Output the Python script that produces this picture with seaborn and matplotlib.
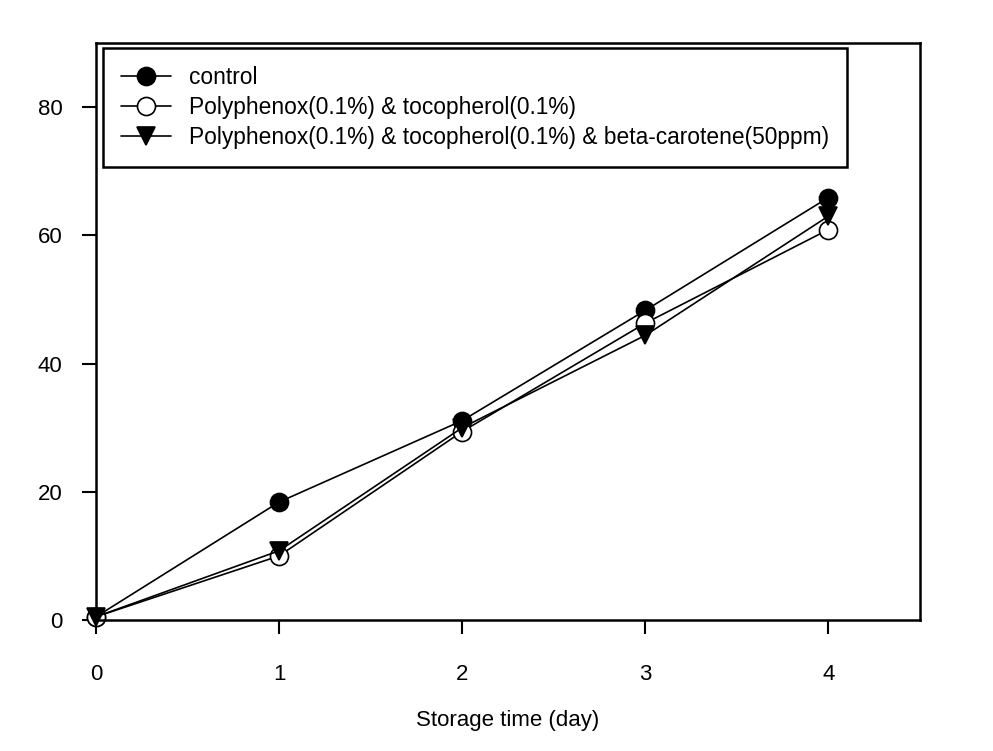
import matplotlib
matplotlib.use("Agg")
import matplotlib.pyplot as plt
import seaborn as sns
import pandas as pd

days = [0, 1, 2, 3, 4]
control = [0.5, 18.4, 31.1, 48.3, 65.9]
poly_toco = [0.5, 10.0, 29.4, 46.3, 60.9]
poly_toco_beta = [0.5, 10.8, 30.0, 44.4, 63.0]
labels = ["control",
          "Polyphenox(0.1%) & tocopherol(0.1%)",
          "Polyphenox(0.1%) & tocopherol(0.1%) & beta-carotene(50ppm)"]
xticks = [0, 1, 2, 3, 4]
yticks = [0, 20, 40, 60, 80]

sns.set_theme(style="white")
plt.rcParams['font.family'] = ['Liberation Sans', 'DejaVu Sans']
plt.rcParams['text.color'] = 'black'
plt.rcParams['xtick.color'] = 'black'
plt.rcParams['ytick.color'] = 'black'
plt.rcParams['axes.labelcolor'] = 'black'

fig = plt.figure(figsize=(9.93, 7.51), dpi=100)
ax = fig.add_axes([96/993, 1-620/751, (920-96)/993, (620-43)/751])

series = [(control, labels[0], 'o', 'black'),
          (poly_toco, labels[1], 'o', 'white'),
          (poly_toco_beta, labels[2], 'v', 'black')]
for vals, lab, mk, fc in series:
    df = pd.DataFrame({"day": days, "val": vals})
    sns.lineplot(data=df, x="day", y="val", ax=ax, color="black", linewidth=1.2,
                 marker=mk, markersize=13, markerfacecolor=fc, markeredgecolor="black",
                 markeredgewidth=1.2, label=lab, clip_on=False)

ax.set_xlim(0, 4.5)
ax.set_ylim(0, 90)
ax.set_xticks(xticks)
ax.set_yticks(yticks)
ax.tick_params(axis='x', direction='out', length=10, width=1.5, pad=22, labelsize=16, bottom=True)
ax.tick_params(axis='y', direction='out', length=10, width=1.5, pad=14, labelsize=16, left=True)
for s in ax.spines.values():
    s.set_linewidth(1.8)
    s.set_color("black")
ax.set_xlabel("Storage time (day)", fontsize=16, labelpad=18)
ax.set_ylabel("")

leg = ax.legend(loc="upper left", bbox_to_anchor=(0.008, 0.992), fontsize=16.4,
                frameon=True, fancybox=False, edgecolor="black", handlelength=2.2,
                borderpad=0.8, labelspacing=0.3, handletextpad=0.8, borderaxespad=0)
leg.get_frame().set_linewidth(1.8)
leg.get_frame().set_edgecolor("black")
leg.get_frame().set_alpha(1)

fig.savefig("out.png", dpi=100)
